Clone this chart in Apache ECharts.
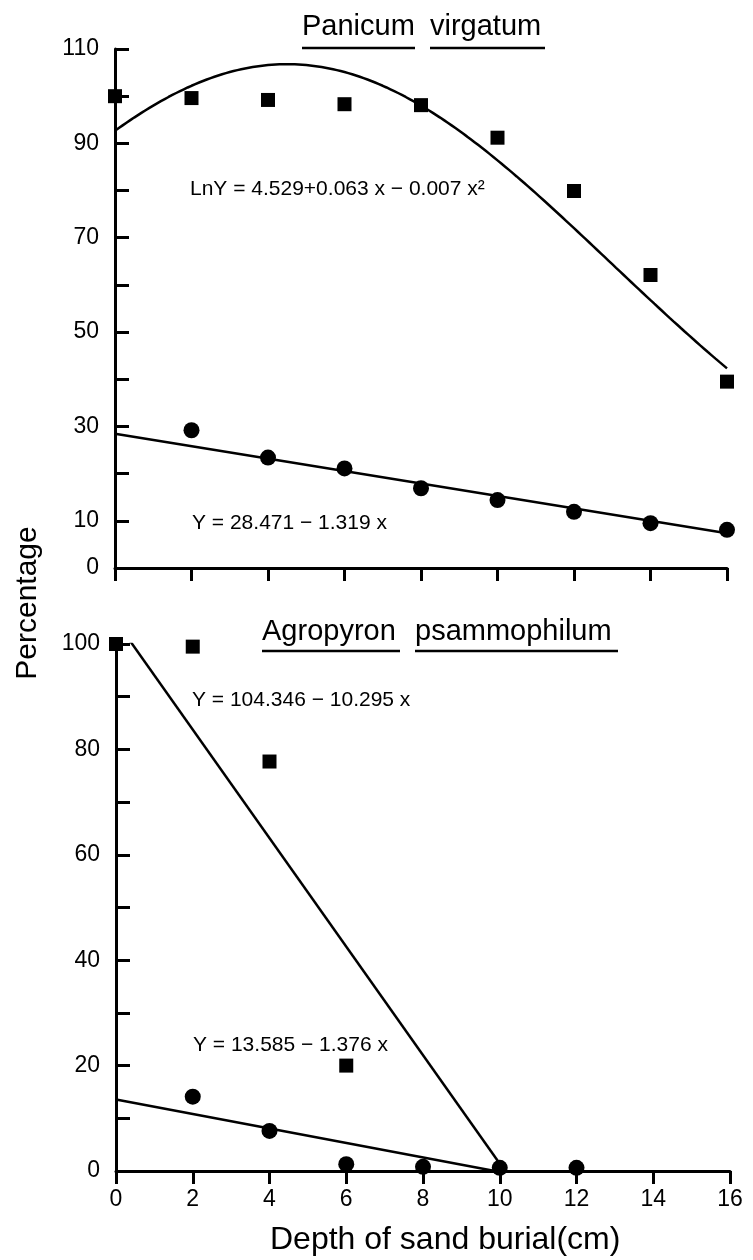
<!DOCTYPE html>
<html>
<head>
<meta charset="utf-8">
<script src="https://cdn.jsdelivr.net/npm/echarts@6/dist/echarts.min.js"></script>
<style>
  html, body { margin: 0; padding: 0; background: #ffffff; }
  #chart { width: 753px; height: 1260px; }
</style>
</head>
<body>
<div id="chart"></div>
<script>
// Depth of sand burial (cm) and emergence percentages
const depthTicks = [0, 2, 4, 6, 8, 10, 12, 14, 16];

// Panicum virgatum
const panicumSquareDepth = [0, 2, 4, 6, 8, 10, 12, 14, 16];
const panicumSquare = [100, 99.6, 99.2, 98.3, 98.1, 91.2, 79.9, 62.1, 39.5];
const panicumCircleDepth = [2, 4, 6, 8, 10, 12, 14, 16];
const panicumCircle = [29.2, 23.4, 21.1, 16.9, 14.4, 11.9, 9.5, 8.1];

// Agropyron psammophilum
const agroSquareDepth = [0, 2, 4, 6];
const agroSquare = [100, 99.5, 77.7, 20];
const agroCircleDepth = [2, 4, 6, 8, 10, 12];
const agroCircle = [14.1, 7.6, 1.3, 0.8, 0.6, 0.6];

// Regression coefficients printed beside each fitted line
const panicumLnFit = [4.529, 0.063, -0.007];   // LnY = a + b x + c x^2
const panicumLinFit = [28.471, -1.319];        // Y = a + b x
const agroSquareFit = [104.346, -10.295];
const agroCircleFit = [13.585, -1.376];

// Y tick labels shown on each panel
const topYLabels = [0, 10, 30, 50, 70, 90, 110];
const bottomYLabels = [0, 20, 40, 60, 80, 100];

const FONT = '"Liberation Sans", Arial, Helvetica, sans-serif';

function pairs(xs, ys) { return xs.map((x, i) => [x, ys[i]]); }

// Quadratic-in-log curve sampled along the depth range
function lnCurve(coef, x0, x1, step) {
  const pts = [];
  for (let x = x0; x <= x1 + 1e-9; x += step) {
    pts.push([x, Math.exp(coef[0] + coef[1] * x + coef[2] * x * x)]);
  }
  return pts;
}
// Straight fit line, stopped where it reaches zero
function linLine(coef, x0, x1) {
  const root = -coef[0] / coef[1];
  const end = Math.min(x1, root);
  return [[x0, coef[0] + coef[1] * x0], [end, coef[0] + coef[1] * end]];
}

const axisLineStyle = { color: '#000', width: 3 };

function xAxisCfg(gridIndex, showLabels) {
  return {
    type: 'value', gridIndex, min: 0, max: 16, interval: 2,
    axisLine: { show: true, lineStyle: axisLineStyle },
    axisTick: { show: true, inside: false, length: 13, lineStyle: { color: '#000', width: 3 } },
    axisLabel: {
      show: showLabels, color: '#000', fontSize: 23, fontFamily: FONT, margin: 17,
      formatter: v => depthTicks.includes(v) ? String(v) : ''
    },
    splitLine: { show: false }
  };
}
function yAxisCfg(gridIndex, max, labels) {
  return {
    type: 'value', gridIndex, min: 0, max, interval: 10,
    axisLine: { show: true, lineStyle: axisLineStyle },
    axisTick: { show: true, inside: true, length: 14, lineStyle: { color: '#000', width: 3 } },
    axisLabel: {
      color: '#000', fontSize: 23, fontFamily: FONT, margin: 16,
      formatter: v => labels.includes(v) ? String(v) : ''
    },
    splitLine: { show: false }
  };
}

const fitLine = (name, xi, data) => ({
  name, type: 'line', xAxisIndex: xi, yAxisIndex: xi, data,
  showSymbol: false, symbol: 'none', clip: true, smooth: false,
  lineStyle: { color: '#000', width: 2.5 }, z: 2
});
const squares = (name, xi, data) => ({
  name, type: 'scatter', xAxisIndex: xi, yAxisIndex: xi, data,
  symbol: 'rect', symbolSize: 14, itemStyle: { color: '#000', opacity: 1 }, z: 3
});
const circles = (name, xi, data) => ({
  name, type: 'scatter', xAxisIndex: xi, yAxisIndex: xi, data,
  symbol: 'circle', symbolSize: 16, itemStyle: { color: '#000', opacity: 1 }, z: 3
});

function txt(x, y, text, size, align, rotation) {
  return {
    type: 'text', x, y, silent: true, rotation: rotation || 0,
    style: { text, fill: '#000', font: size + 'px ' + FONT, textAlign: align || 'left', textVerticalAlign: 'middle' }
  };
}
function rule(x1, x2, y) {
  return { type: 'line', silent: true, shape: { x1, y1: y, x2, y2: y }, style: { stroke: '#000', lineWidth: 2.5 } };
}

const chart = echarts.init(document.getElementById('chart'), null, { renderer: 'canvas' });

chart.setOption({
  backgroundColor: '#ffffff',
  animation: false,
  grid: [
    { left: 115, top: 49, width: 612, height: 519 },
    { left: 116, top: 644, width: 614, height: 527 }
  ],
  xAxis: [xAxisCfg(0, false), xAxisCfg(1, true)],
  yAxis: [yAxisCfg(0, 110, topYLabels), yAxisCfg(1, 100, bottomYLabels)],
  series: [
    fitLine('Panicum total fit', 0, lnCurve(panicumLnFit, 0, 16, 0.1)),
    fitLine('Panicum circle fit', 0, linLine(panicumLinFit, 0, 16)),
    squares('Panicum squares', 0, pairs(panicumSquareDepth, panicumSquare)),
    circles('Panicum circles', 0, pairs(panicumCircleDepth, panicumCircle)),
    fitLine('Agropyron square fit', 1, linLine(agroSquareFit, 0, 16)),
    fitLine('Agropyron circle fit', 1, linLine(agroCircleFit, 0, 16)),
    squares('Agropyron squares', 1, pairs(agroSquareDepth, agroSquare)),
    circles('Agropyron circles', 1, pairs(agroCircleDepth, agroCircle))
  ],
  graphic: [
    // panel titles, each word underlined
    txt(302, 27, 'Panicum', 29),
    txt(430, 27, 'virgatum', 29),
    rule(302, 415, 48),
    rule(430, 545, 48),
    txt(262, 632, 'Agropyron', 29),
    txt(415, 632, 'psammophilum', 29),
    rule(262, 400, 651),
    rule(415, 618, 651),
    // regression equations
    txt(190, 189, 'LnY = 4.529+0.063 x − 0.007 x²', 21),
    txt(192, 523, 'Y = 28.471 − 1.319 x', 21),
    txt(192, 700, 'Y = 104.346 − 10.295 x', 21),
    txt(193, 1045, 'Y = 13.585 − 1.376 x', 21),
    // axis titles
    txt(28, 603, 'Percentage', 30, 'center', Math.PI / 2),
    txt(270, 1240, 'Depth of sand burial(cm)', 32)
  ]
});
</script>
</body>
</html>
